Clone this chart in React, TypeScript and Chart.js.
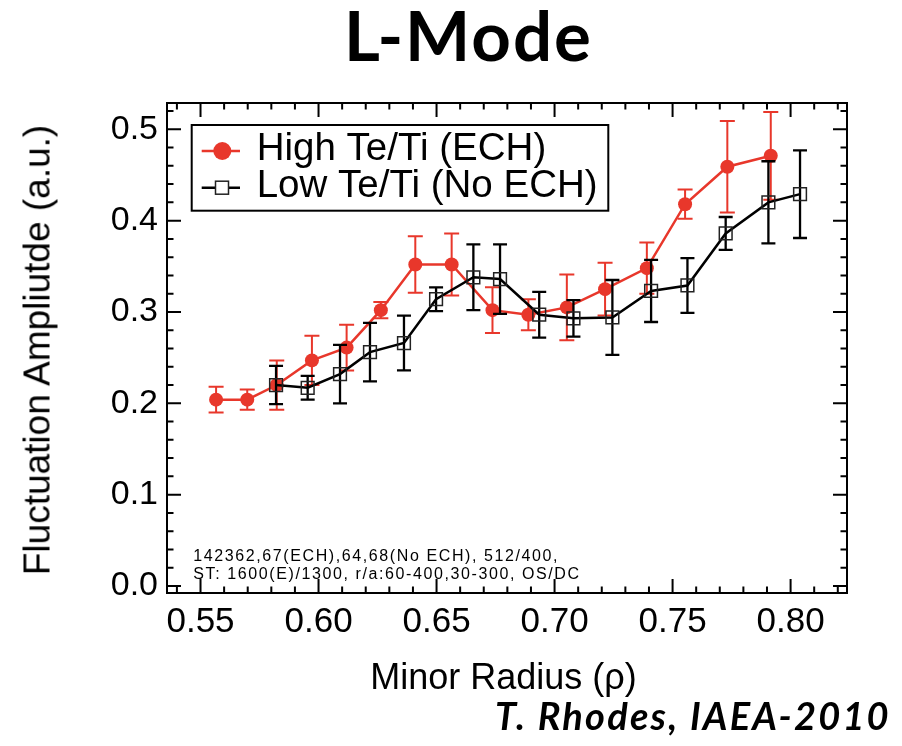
import React, { useEffect, useRef } from 'react';
import { Chart, registerables } from 'chart.js';

Chart.register(...registerables);

// ---- data ----
const HIGH_X = [0.5566, 0.5698, 0.5823, 0.5972, 0.6119, 0.6264, 0.641, 0.6564, 0.6737, 0.6889, 0.7052, 0.7214, 0.7391, 0.7553, 0.7732, 0.7916];
const HIGH_Y = [0.204, 0.204, 0.22, 0.247, 0.261, 0.302, 0.352, 0.352, 0.302, 0.297, 0.305, 0.325, 0.348, 0.418, 0.459, 0.471];
const HIGH_ERR = [0.014, 0.011, 0.027, 0.027, 0.025, 0.009, 0.031, 0.034, 0.025, 0.017, 0.036, 0.029, 0.028, 0.016, 0.05, 0.048];

const LOW_X = [0.582, 0.5954, 0.6091, 0.6218, 0.6362, 0.6498, 0.6656, 0.6769, 0.6935, 0.708, 0.7245, 0.7409, 0.7563, 0.7725, 0.7906, 0.804];
const LOW_Y = [0.22, 0.217, 0.232, 0.256, 0.266, 0.314, 0.338, 0.336, 0.297, 0.293, 0.294, 0.323, 0.329, 0.386, 0.42, 0.429];
const LOW_ERR = [0.021, 0.013, 0.032, 0.032, 0.03, 0.013, 0.036, 0.038, 0.025, 0.02, 0.041, 0.034, 0.03, 0.018, 0.045, 0.048];

const SERIES_NAMES = ['High Te/Ti (ECH)', 'Low Te/Ti (No ECH)'];

const X_TICKS = [0.55, 0.6, 0.65, 0.7, 0.75, 0.8];
const X_LABELS = ['0.55', '0.60', '0.65', '0.70', '0.75', '0.80'];
const Y_TICKS = [0, 0.1, 0.2, 0.3, 0.4, 0.5];
const Y_LABELS = ['0.0', '0.1', '0.2', '0.3', '0.4', '0.5'];

const X_MIN = 0.5358;
const X_MAX = 0.8239;
const Y_MIN = -0.0077;
const Y_MAX = 0.5288;

const TITLE = 'L-Mode';
const X_TITLE = 'Minor Radius (\u03c1)';
const Y_TITLE = 'Fluctuation Ampliutde (a.u.)';
const NOTE_LINES = ['142362,67(ECH),64,68(No ECH), 512/400,', 'ST: 1600(E)/1300, r/a:60-400,30-300, OS/DC'];
const FOOTER = 'T. Rhodes, IAEA-2010';

const RED = '#e8372b';
const SANS = '"Liberation Sans", Arial, Helvetica, sans-serif';

const errorBarPlugin = {
  id: 'errorBars',
  beforeDatasetDraw(chart: any, args: any) {
    const ds = chart.data.datasets[args.index];
    const errs: number[] = ds.errors;
    if (!errs) return;
    const { ctx, scales, chartArea } = chart;
    const xs = scales.x;
    const ys = scales.y;
    ctx.save();
    ctx.beginPath();
    ctx.rect(chartArea.left, chartArea.top, chartArea.right - chartArea.left, chartArea.bottom - chartArea.top);
    ctx.clip();
    ctx.strokeStyle = ds.borderColor;
    ctx.lineWidth = ds.errWidth;
    const cap = ds.capHalf;
    ds.data.forEach((p: any, i: number) => {
      const px = xs.getPixelForValue(p.x);
      const top = ys.getPixelForValue(p.y + errs[i]);
      const bot = ys.getPixelForValue(p.y - errs[i]);
      ctx.beginPath();
      ctx.moveTo(px, top);
      ctx.lineTo(px, bot);
      ctx.moveTo(px - cap, top);
      ctx.lineTo(px + cap, top);
      ctx.moveTo(px - cap, bot);
      ctx.lineTo(px + cap, bot);
      ctx.stroke();
    });
    ctx.restore();
  },
};

const framePlugin = {
  id: 'frameTicks',
  afterDatasetsDraw(chart: any) {
    const { ctx, chartArea, scales } = chart;
    const { left, right, top, bottom } = chartArea;
    const xs = scales.x;
    const ys = scales.y;
    ctx.save();
    ctx.strokeStyle = '#000';
    ctx.lineWidth = 2;
    ctx.strokeRect(left, top, right - left, bottom - top);
    const MAJ = 14;
    const MIN = 6.5;
    ctx.beginPath();
    for (let k = 54; k <= 82; k++) {
      const v = k / 100;
      const px = xs.getPixelForValue(v);
      if (px < left || px > right) continue;
      const len = k % 5 === 0 ? MAJ : MIN;
      ctx.moveTo(px, bottom);
      ctx.lineTo(px, bottom - len);
      ctx.moveTo(px, top);
      ctx.lineTo(px, top + len);
    }
    for (let k = 0; k <= 26; k++) {
      const v = k / 50;
      const py = ys.getPixelForValue(v);
      if (py < top || py > bottom) continue;
      const len = k % 5 === 0 ? MAJ : MIN;
      ctx.moveTo(left, py);
      ctx.lineTo(left + len, py);
      ctx.moveTo(right, py);
      ctx.lineTo(right - len, py);
    }
    ctx.stroke();
    ctx.restore();
  },
};

const legendPlugin = {
  id: 'boxLegend',
  afterDraw(chart: any) {
    const { ctx } = chart;
    const ds = chart.data.datasets;
    ctx.save();
    ctx.fillStyle = '#fff';
    ctx.fillRect(191.7, 125, 416.6, 85.7);
    ctx.strokeStyle = '#000';
    ctx.lineWidth = 2;
    ctx.strokeRect(191.7, 125, 416.6, 85.7);
    const rows = [
      { y: 151, base: 160, d: ds[0] },
      { y: 187.7, base: 196.7, d: ds[1] },
    ];
    rows.forEach((r, i) => {
      ctx.strokeStyle = r.d.borderColor;
      ctx.lineWidth = 2.5;
      ctx.beginPath();
      ctx.moveTo(201.7, r.y);
      ctx.lineTo(240, r.y);
      ctx.stroke();
      if (i === 0) {
        ctx.fillStyle = r.d.pointBackgroundColor;
        ctx.beginPath();
        ctx.arc(222.3, r.y, 9, 0, Math.PI * 2);
        ctx.fill();
      } else {
        ctx.fillStyle = '#fff';
        ctx.fillRect(215.5, r.y - 6.5, 13, 13);
        ctx.strokeStyle = '#222';
        ctx.lineWidth = 1.5;
        ctx.strokeRect(215.5, r.y - 6.5, 13, 13);
      }
      ctx.fillStyle = '#000';
      ctx.font = `38.5px ${SANS}`;
      ctx.textBaseline = 'alphabetic';
      ctx.textAlign = 'left';
      ctx.fillText(r.d.label, 256.7, r.base);
    });
    ctx.restore();
  },
};

export default function App() {
  const ref = useRef<HTMLCanvasElement | null>(null);

  useEffect(() => {
    document.body.style.margin = '0';
    const canvas = ref.current;
    if (!canvas) return;
    const chart = new Chart(canvas, {
      type: 'line',
      data: {
        datasets: [
          {
            label: SERIES_NAMES[0],
            data: HIGH_X.map((x, i) => ({ x, y: HIGH_Y[i] })),
            errors: HIGH_ERR,
            errWidth: 2,
            capHalf: 7.5,
            borderColor: RED,
            borderWidth: 2.5,
            pointStyle: 'circle',
            pointRadius: 7,
            pointBackgroundColor: RED,
            pointBorderColor: RED,
            pointBorderWidth: 0,
            tension: 0,
            order: 2,
          } as any,
          {
            label: SERIES_NAMES[1],
            data: LOW_X.map((x, i) => ({ x, y: LOW_Y[i] })),
            errors: LOW_ERR,
            errWidth: 2.3,
            capHalf: 7,
            borderColor: '#000',
            borderWidth: 2.5,
            pointStyle: 'rect',
            pointRadius: 9,
            pointBackgroundColor: 'rgba(255,255,255,0)',
            pointBorderColor: '#222',
            pointBorderWidth: 1.5,
            tension: 0,
            order: 1,
          } as any,
        ],
      },
      options: {
        animation: false,
        responsive: false,
        devicePixelRatio: 1,
        layout: { padding: { top: 103, right: 55, bottom: 0, left: 0 } },
        plugins: {
          legend: { display: false },
          tooltip: { enabled: false },
          title: { display: false },
        },
        scales: {
          x: {
            type: 'linear',
            min: X_MIN,
            max: X_MAX,
            afterBuildTicks: (s: any) => {
              s.ticks = X_TICKS.map((v) => ({ value: v }));
            },
            afterFit: (s: any) => {
              s.height = 153;
            },
            grid: { display: false, drawTicks: false },
            border: { display: false },
            ticks: {
              autoSkip: false,
              maxRotation: 0,
              padding: 8,
              color: '#000',
              font: { family: SANS, size: 35 },
              callback: (v: any) => X_LABELS[X_TICKS.indexOf(v)],
            },
          },
          y: {
            type: 'linear',
            min: Y_MIN,
            max: Y_MAX,
            afterBuildTicks: (s: any) => {
              s.ticks = Y_TICKS.map((v) => ({ value: v }));
            },
            afterFit: (s: any) => {
              s.width = 167;
            },
            grid: { display: false, drawTicks: false },
            border: { display: false },
            ticks: {
              autoSkip: false,
              padding: 9,
              color: '#000',
              font: { family: SANS, size: 34 },
              callback: (v: any) => Y_LABELS[Y_TICKS.indexOf(v)],
            },
          },
        },
      } as any,
      plugins: [errorBarPlugin, framePlugin, legendPlugin],
    });
    return () => chart.destroy();
  }, []);

  return (
    <div style={{ position: 'relative', width: 902, height: 746, overflow: 'hidden', background: '#fff' }}>
      <canvas ref={ref} width={902} height={746} style={{ position: 'absolute', left: 0, top: 0 }} />
      <div
        style={{
          position: 'absolute',
          left: 468.5,
          top: 0,
          transform: 'translateX(-50%)',
          font: '700 69px Lato, sans-serif',
          lineHeight: '69px',
          letterSpacing: '2px',
          whiteSpace: 'nowrap',
          color: '#000',
        }}
      >
        {TITLE}
      </div>
      <div
        style={{
          position: 'absolute',
          left: 37.2,
          top: 350,
          transform: 'translate(-50%, -50%) rotate(-90deg)',
          fontFamily: SANS,
          fontSize: 37,
          lineHeight: '37px',
          whiteSpace: 'nowrap',
          color: '#000',
        }}
      >
        {Y_TITLE}
      </div>
      <div
        style={{
          position: 'absolute',
          left: 503.5,
          top: 658.5,
          transform: 'translateX(-50%)',
          fontFamily: SANS,
          fontSize: 36,
          lineHeight: '36px',
          whiteSpace: 'nowrap',
          color: '#000',
        }}
      >
        {X_TITLE}
      </div>
      {NOTE_LINES.map((t, i) => (
        <div
          key={i}
          style={{
            position: 'absolute',
            left: 193.3,
            top: 548.2 + i * 17.6,
            fontFamily: SANS,
            fontSize: 16,
            lineHeight: '16px',
            letterSpacing: '1.6px',
            whiteSpace: 'nowrap',
            color: '#000',
          }}
        >
          {t}
        </div>
      ))}
      <div
        style={{
          position: 'absolute',
          left: 495,
          top: 696.3,
          font: 'italic 700 38px Lato, sans-serif',
          lineHeight: '38px',
          letterSpacing: '2.2px',
          whiteSpace: 'nowrap',
          color: '#000',
        }}
      >
        {FOOTER}
      </div>
    </div>
  );
}
